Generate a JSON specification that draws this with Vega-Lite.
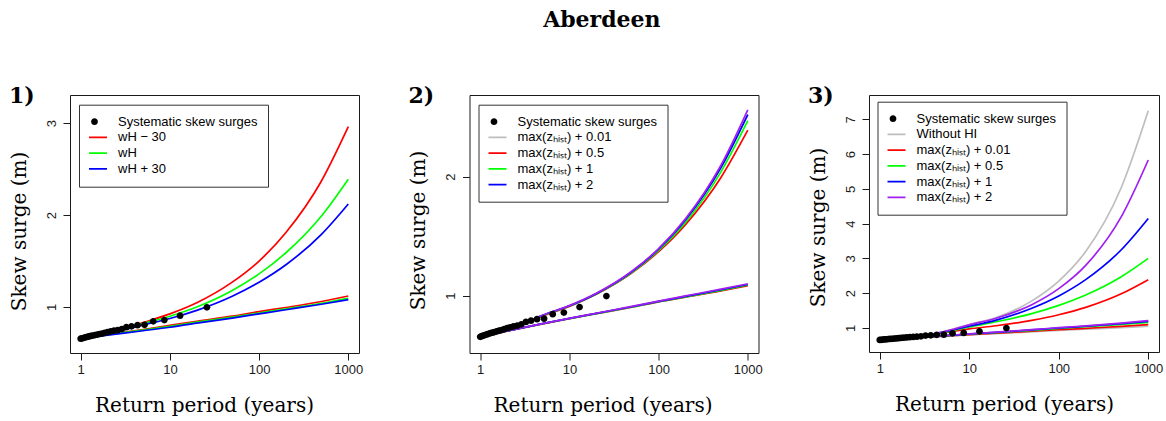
{
"$schema": "https://vega.github.io/schema/vega-lite/v6.json",
"title": {"text": "Aberdeen", "font": "DejaVu Serif", "fontSize": 22, "fontWeight": "bold", "color": "#000", "anchor": "middle", "offset": 53, "dx": 16},
"padding": {"left": 8, "top": 8, "right": 5, "bottom": 5},
"bounds": "flush",
"spacing": 110.5,
"datasets": {
"obs": [
{"series":"Systematic skew surges","T":26,"y":0.997},{"series":"Systematic skew surges","T":13,"y":0.905},{"series":"Systematic skew surges","T":8.667,"y":0.858},{"series":"Systematic skew surges","T":6.5,"y":0.845},{"series":"Systematic skew surges","T":5.2,"y":0.807},{"series":"Systematic skew surges","T":4.333,"y":0.803},{"series":"Systematic skew surges","T":3.714,"y":0.79},{"series":"Systematic skew surges","T":3.25,"y":0.78},{"series":"Systematic skew surges","T":2.889,"y":0.76},{"series":"Systematic skew surges","T":2.6,"y":0.748},{"series":"Systematic skew surges","T":2.364,"y":0.742},{"series":"Systematic skew surges","T":2.167,"y":0.735},{"series":"Systematic skew surges","T":2.0,"y":0.727},{"series":"Systematic skew surges","T":1.857,"y":0.72},{"series":"Systematic skew surges","T":1.733,"y":0.712},{"series":"Systematic skew surges","T":1.625,"y":0.706},{"series":"Systematic skew surges","T":1.529,"y":0.70},{"series":"Systematic skew surges","T":1.444,"y":0.695},{"series":"Systematic skew surges","T":1.368,"y":0.69},{"series":"Systematic skew surges","T":1.3,"y":0.685},{"series":"Systematic skew surges","T":1.238,"y":0.68},{"series":"Systematic skew surges","T":1.182,"y":0.675},{"series":"Systematic skew surges","T":1.13,"y":0.67},{"series":"Systematic skew surges","T":1.083,"y":0.665},{"series":"Systematic skew surges","T":1.04,"y":0.66},{"series":"Systematic skew surges","T":1.0,"y":0.655}
],
"p1": [
{"series":"wH − 30","curve":"upper","T":1,"y":0.655},{"series":"wH − 30","curve":"upper","T":2,"y":0.72},{"series":"wH − 30","curve":"upper","T":3,"y":0.763},{"series":"wH − 30","curve":"upper","T":5,"y":0.83},{"series":"wH − 30","curve":"upper","T":10,"y":0.925},{"series":"wH − 30","curve":"upper","T":20,"y":1.046},{"series":"wH − 30","curve":"upper","T":50,"y":1.27},{"series":"wH − 30","curve":"upper","T":100,"y":1.5},{"series":"wH − 30","curve":"upper","T":200,"y":1.81},{"series":"wH − 30","curve":"upper","T":500,"y":2.37},{"series":"wH − 30","curve":"upper","T":1000,"y":2.96},
{"series":"wH − 30","curve":"lower","T":1,"y":0.655},{"series":"wH − 30","curve":"lower","T":2,"y":0.70},{"series":"wH − 30","curve":"lower","T":5,"y":0.755},{"series":"wH − 30","curve":"lower","T":10,"y":0.80},{"series":"wH − 30","curve":"lower","T":20,"y":0.845},{"series":"wH − 30","curve":"lower","T":50,"y":0.90},{"series":"wH − 30","curve":"lower","T":100,"y":0.95},{"series":"wH − 30","curve":"lower","T":200,"y":0.995},{"series":"wH − 30","curve":"lower","T":500,"y":1.06},{"series":"wH − 30","curve":"lower","T":1000,"y":1.12},
{"series":"wH","curve":"upper","T":1,"y":0.655},{"series":"wH","curve":"upper","T":2,"y":0.716},{"series":"wH","curve":"upper","T":3,"y":0.758},{"series":"wH","curve":"upper","T":5,"y":0.82},{"series":"wH","curve":"upper","T":10,"y":0.90},{"series":"wH","curve":"upper","T":20,"y":1.0},{"series":"wH","curve":"upper","T":50,"y":1.18},{"series":"wH","curve":"upper","T":100,"y":1.36},{"series":"wH","curve":"upper","T":200,"y":1.59},{"series":"wH","curve":"upper","T":500,"y":1.99},{"series":"wH","curve":"upper","T":1000,"y":2.39},
{"series":"wH","curve":"lower","T":1,"y":0.655},{"series":"wH","curve":"lower","T":2,"y":0.697},{"series":"wH","curve":"lower","T":5,"y":0.75},{"series":"wH","curve":"lower","T":10,"y":0.79},{"series":"wH","curve":"lower","T":20,"y":0.835},{"series":"wH","curve":"lower","T":50,"y":0.89},{"series":"wH","curve":"lower","T":100,"y":0.935},{"series":"wH","curve":"lower","T":200,"y":0.98},{"series":"wH","curve":"lower","T":500,"y":1.04},{"series":"wH","curve":"lower","T":1000,"y":1.095},
{"series":"wH + 30","curve":"upper","T":1,"y":0.655},{"series":"wH + 30","curve":"upper","T":2,"y":0.712},{"series":"wH + 30","curve":"upper","T":3,"y":0.752},{"series":"wH + 30","curve":"upper","T":5,"y":0.805},{"series":"wH + 30","curve":"upper","T":10,"y":0.875},{"series":"wH + 30","curve":"upper","T":20,"y":0.964},{"series":"wH + 30","curve":"upper","T":50,"y":1.118},{"series":"wH + 30","curve":"upper","T":100,"y":1.27},{"series":"wH + 30","curve":"upper","T":200,"y":1.46},{"series":"wH + 30","curve":"upper","T":500,"y":1.79},{"series":"wH + 30","curve":"upper","T":1000,"y":2.12},
{"series":"wH + 30","curve":"lower","T":1,"y":0.655},{"series":"wH + 30","curve":"lower","T":2,"y":0.693},{"series":"wH + 30","curve":"lower","T":5,"y":0.742},{"series":"wH + 30","curve":"lower","T":10,"y":0.78},{"series":"wH + 30","curve":"lower","T":20,"y":0.825},{"series":"wH + 30","curve":"lower","T":50,"y":0.88},{"series":"wH + 30","curve":"lower","T":100,"y":0.925},{"series":"wH + 30","curve":"lower","T":200,"y":0.97},{"series":"wH + 30","curve":"lower","T":500,"y":1.03},{"series":"wH + 30","curve":"lower","T":1000,"y":1.08}
],
"p2": [
{"series":"max(zₕᵢₛₜ) + 0.01","curve":"upper","T":1,"y":0.655},{"series":"max(zₕᵢₛₜ) + 0.01","curve":"upper","T":2,"y":0.72},{"series":"max(zₕᵢₛₜ) + 0.01","curve":"upper","T":3,"y":0.765},{"series":"max(zₕᵢₛₜ) + 0.01","curve":"upper","T":5,"y":0.835},{"series":"max(zₕᵢₛₜ) + 0.01","curve":"upper","T":10,"y":0.915},{"series":"max(zₕᵢₛₜ) + 0.01","curve":"upper","T":20,"y":1.017},{"series":"max(zₕᵢₛₜ) + 0.01","curve":"upper","T":50,"y":1.2},{"series":"max(zₕᵢₛₜ) + 0.01","curve":"upper","T":100,"y":1.39},{"series":"max(zₕᵢₛₜ) + 0.01","curve":"upper","T":200,"y":1.635},{"series":"max(zₕᵢₛₜ) + 0.01","curve":"upper","T":500,"y":2.075},{"series":"max(zₕᵢₛₜ) + 0.01","curve":"upper","T":1000,"y":2.52},
{"series":"max(zₕᵢₛₜ) + 0.01","curve":"lower","T":1,"y":0.655},{"series":"max(zₕᵢₛₜ) + 0.01","curve":"lower","T":2,"y":0.703},{"series":"max(zₕᵢₛₜ) + 0.01","curve":"lower","T":5,"y":0.764},{"series":"max(zₕᵢₛₜ) + 0.01","curve":"lower","T":10,"y":0.808},{"series":"max(zₕᵢₛₜ) + 0.01","curve":"lower","T":20,"y":0.85},{"series":"max(zₕᵢₛₜ) + 0.01","curve":"lower","T":50,"y":0.905},{"series":"max(zₕᵢₛₜ) + 0.01","curve":"lower","T":100,"y":0.95},{"series":"max(zₕᵢₛₜ) + 0.01","curve":"lower","T":200,"y":0.99},{"series":"max(zₕᵢₛₜ) + 0.01","curve":"lower","T":500,"y":1.045},{"series":"max(zₕᵢₛₜ) + 0.01","curve":"lower","T":1000,"y":1.09},
{"series":"max(zₕᵢₛₜ) + 0.5","curve":"upper","T":1,"y":0.655},{"series":"max(zₕᵢₛₜ) + 0.5","curve":"upper","T":2,"y":0.72},{"series":"max(zₕᵢₛₜ) + 0.5","curve":"upper","T":3,"y":0.763},{"series":"max(zₕᵢₛₜ) + 0.5","curve":"upper","T":5,"y":0.83},{"series":"max(zₕᵢₛₜ) + 0.5","curve":"upper","T":10,"y":0.91},{"series":"max(zₕᵢₛₜ) + 0.5","curve":"upper","T":20,"y":1.012},{"series":"max(zₕᵢₛₜ) + 0.5","curve":"upper","T":50,"y":1.19},{"series":"max(zₕᵢₛₜ) + 0.5","curve":"upper","T":100,"y":1.37},{"series":"max(zₕᵢₛₜ) + 0.5","curve":"upper","T":200,"y":1.597},{"series":"max(zₕᵢₛₜ) + 0.5","curve":"upper","T":500,"y":1.993},{"series":"max(zₕᵢₛₜ) + 0.5","curve":"upper","T":1000,"y":2.39},
{"series":"max(zₕᵢₛₜ) + 0.5","curve":"lower","T":1,"y":0.655},{"series":"max(zₕᵢₛₜ) + 0.5","curve":"lower","T":2,"y":0.703},{"series":"max(zₕᵢₛₜ) + 0.5","curve":"lower","T":5,"y":0.764},{"series":"max(zₕᵢₛₜ) + 0.5","curve":"lower","T":10,"y":0.807},{"series":"max(zₕᵢₛₜ) + 0.5","curve":"lower","T":20,"y":0.849},{"series":"max(zₕᵢₛₜ) + 0.5","curve":"lower","T":50,"y":0.903},{"series":"max(zₕᵢₛₜ) + 0.5","curve":"lower","T":100,"y":0.948},{"series":"max(zₕᵢₛₜ) + 0.5","curve":"lower","T":200,"y":0.987},{"series":"max(zₕᵢₛₜ) + 0.5","curve":"lower","T":500,"y":1.04},{"series":"max(zₕᵢₛₜ) + 0.5","curve":"lower","T":1000,"y":1.085},
{"series":"max(zₕᵢₛₜ) + 1","curve":"upper","T":1,"y":0.655},{"series":"max(zₕᵢₛₜ) + 1","curve":"upper","T":2,"y":0.72},{"series":"max(zₕᵢₛₜ) + 1","curve":"upper","T":3,"y":0.765},{"series":"max(zₕᵢₛₜ) + 1","curve":"upper","T":5,"y":0.833},{"series":"max(zₕᵢₛₜ) + 1","curve":"upper","T":10,"y":0.913},{"series":"max(zₕᵢₛₜ) + 1","curve":"upper","T":20,"y":1.015},{"series":"max(zₕᵢₛₜ) + 1","curve":"upper","T":50,"y":1.195},{"series":"max(zₕᵢₛₜ) + 1","curve":"upper","T":100,"y":1.38},{"series":"max(zₕᵢₛₜ) + 1","curve":"upper","T":200,"y":1.615},{"series":"max(zₕᵢₛₜ) + 1","curve":"upper","T":500,"y":2.04},{"series":"max(zₕᵢₛₜ) + 1","curve":"upper","T":1000,"y":2.47},
{"series":"max(zₕᵢₛₜ) + 1","curve":"lower","T":1,"y":0.655},{"series":"max(zₕᵢₛₜ) + 1","curve":"lower","T":2,"y":0.704},{"series":"max(zₕᵢₛₜ) + 1","curve":"lower","T":5,"y":0.765},{"series":"max(zₕᵢₛₜ) + 1","curve":"lower","T":10,"y":0.808},{"series":"max(zₕᵢₛₜ) + 1","curve":"lower","T":20,"y":0.85},{"series":"max(zₕᵢₛₜ) + 1","curve":"lower","T":50,"y":0.905},{"series":"max(zₕᵢₛₜ) + 1","curve":"lower","T":100,"y":0.95},{"series":"max(zₕᵢₛₜ) + 1","curve":"lower","T":200,"y":0.99},{"series":"max(zₕᵢₛₜ) + 1","curve":"lower","T":500,"y":1.045},{"series":"max(zₕᵢₛₜ) + 1","curve":"lower","T":1000,"y":1.09},
{"series":"max(zₕᵢₛₜ) + 2","curve":"upper","T":1,"y":0.655},{"series":"max(zₕᵢₛₜ) + 2","curve":"upper","T":2,"y":0.72},{"series":"max(zₕᵢₛₜ) + 2","curve":"upper","T":3,"y":0.765},{"series":"max(zₕᵢₛₜ) + 2","curve":"upper","T":5,"y":0.835},{"series":"max(zₕᵢₛₜ) + 2","curve":"upper","T":10,"y":0.915},{"series":"max(zₕᵢₛₜ) + 2","curve":"upper","T":20,"y":1.017},{"series":"max(zₕᵢₛₜ) + 2","curve":"upper","T":50,"y":1.2},{"series":"max(zₕᵢₛₜ) + 2","curve":"upper","T":100,"y":1.39},{"series":"max(zₕᵢₛₜ) + 2","curve":"upper","T":200,"y":1.635},{"series":"max(zₕᵢₛₜ) + 2","curve":"upper","T":500,"y":2.075},{"series":"max(zₕᵢₛₜ) + 2","curve":"upper","T":1000,"y":2.52},
{"series":"max(zₕᵢₛₜ) + 2","curve":"lower","T":1,"y":0.655},{"series":"max(zₕᵢₛₜ) + 2","curve":"lower","T":2,"y":0.704},{"series":"max(zₕᵢₛₜ) + 2","curve":"lower","T":5,"y":0.765},{"series":"max(zₕᵢₛₜ) + 2","curve":"lower","T":10,"y":0.809},{"series":"max(zₕᵢₛₜ) + 2","curve":"lower","T":20,"y":0.852},{"series":"max(zₕᵢₛₜ) + 2","curve":"lower","T":50,"y":0.907},{"series":"max(zₕᵢₛₜ) + 2","curve":"lower","T":100,"y":0.952},{"series":"max(zₕᵢₛₜ) + 2","curve":"lower","T":200,"y":0.994},{"series":"max(zₕᵢₛₜ) + 2","curve":"lower","T":500,"y":1.05},{"series":"max(zₕᵢₛₜ) + 2","curve":"lower","T":1000,"y":1.095},
{"series":"unlabelled","curve":"upper","T":1,"y":0.655},{"series":"unlabelled","curve":"upper","T":2,"y":0.72},{"series":"unlabelled","curve":"upper","T":3,"y":0.766},{"series":"unlabelled","curve":"upper","T":5,"y":0.836},{"series":"unlabelled","curve":"upper","T":10,"y":0.917},{"series":"unlabelled","curve":"upper","T":20,"y":1.02},{"series":"unlabelled","curve":"upper","T":50,"y":1.205},{"series":"unlabelled","curve":"upper","T":100,"y":1.395},{"series":"unlabelled","curve":"upper","T":200,"y":1.645},{"series":"unlabelled","curve":"upper","T":500,"y":2.095},{"series":"unlabelled","curve":"upper","T":1000,"y":2.56},
{"series":"unlabelled","curve":"lower","T":1,"y":0.655},{"series":"unlabelled","curve":"lower","T":2,"y":0.705},{"series":"unlabelled","curve":"lower","T":5,"y":0.766},{"series":"unlabelled","curve":"lower","T":10,"y":0.81},{"series":"unlabelled","curve":"lower","T":20,"y":0.853},{"series":"unlabelled","curve":"lower","T":50,"y":0.91},{"series":"unlabelled","curve":"lower","T":100,"y":0.955},{"series":"unlabelled","curve":"lower","T":200,"y":0.998},{"series":"unlabelled","curve":"lower","T":500,"y":1.055},{"series":"unlabelled","curve":"lower","T":1000,"y":1.10}
],
"p3": [
{"series":"Without HI","curve":"upper","T":1,"y":0.655},{"series":"Without HI","curve":"upper","T":2,"y":0.72},{"series":"Without HI","curve":"upper","T":3,"y":0.775},{"series":"Without HI","curve":"upper","T":5,"y":0.89},{"series":"Without HI","curve":"upper","T":10,"y":1.10},{"series":"Without HI","curve":"upper","T":20,"y":1.30},{"series":"Without HI","curve":"upper","T":50,"y":1.78},{"series":"Without HI","curve":"upper","T":100,"y":2.35},{"series":"Without HI","curve":"upper","T":200,"y":3.2},{"series":"Without HI","curve":"upper","T":500,"y":5.04},{"series":"Without HI","curve":"upper","T":1000,"y":7.245},
{"series":"Without HI","curve":"lower","T":1,"y":0.655},{"series":"Without HI","curve":"lower","T":2,"y":0.70},{"series":"Without HI","curve":"lower","T":5,"y":0.76},{"series":"Without HI","curve":"lower","T":10,"y":0.80},{"series":"Without HI","curve":"lower","T":20,"y":0.84},{"series":"Without HI","curve":"lower","T":50,"y":0.89},{"series":"Without HI","curve":"lower","T":100,"y":0.93},{"series":"Without HI","curve":"lower","T":200,"y":0.965},{"series":"Without HI","curve":"lower","T":500,"y":1.01},{"series":"Without HI","curve":"lower","T":1000,"y":1.05},
{"series":"max(zₕᵢₛₜ) + 0.01","curve":"upper","T":1,"y":0.655},{"series":"max(zₕᵢₛₜ) + 0.01","curve":"upper","T":2,"y":0.72},{"series":"max(zₕᵢₛₜ) + 0.01","curve":"upper","T":3,"y":0.77},{"series":"max(zₕᵢₛₜ) + 0.01","curve":"upper","T":5,"y":0.855},{"series":"max(zₕᵢₛₜ) + 0.01","curve":"upper","T":10,"y":0.975},{"series":"max(zₕᵢₛₜ) + 0.01","curve":"upper","T":20,"y":1.063},{"series":"max(zₕᵢₛₜ) + 0.01","curve":"upper","T":50,"y":1.218},{"series":"max(zₕᵢₛₜ) + 0.01","curve":"upper","T":100,"y":1.38},{"series":"max(zₕᵢₛₜ) + 0.01","curve":"upper","T":200,"y":1.594},{"series":"max(zₕᵢₛₜ) + 0.01","curve":"upper","T":500,"y":1.985},{"series":"max(zₕᵢₛₜ) + 0.01","curve":"upper","T":1000,"y":2.39},
{"series":"max(zₕᵢₛₜ) + 0.01","curve":"lower","T":1,"y":0.655},{"series":"max(zₕᵢₛₜ) + 0.01","curve":"lower","T":2,"y":0.705},{"series":"max(zₕᵢₛₜ) + 0.01","curve":"lower","T":5,"y":0.765},{"series":"max(zₕᵢₛₜ) + 0.01","curve":"lower","T":10,"y":0.81},{"series":"max(zₕᵢₛₜ) + 0.01","curve":"lower","T":20,"y":0.853},{"series":"max(zₕᵢₛₜ) + 0.01","curve":"lower","T":50,"y":0.905},{"series":"max(zₕᵢₛₜ) + 0.01","curve":"lower","T":100,"y":0.95},{"series":"max(zₕᵢₛₜ) + 0.01","curve":"lower","T":200,"y":0.99},{"series":"max(zₕᵢₛₜ) + 0.01","curve":"lower","T":500,"y":1.045},{"series":"max(zₕᵢₛₜ) + 0.01","curve":"lower","T":1000,"y":1.095},
{"series":"max(zₕᵢₛₜ) + 0.5","curve":"upper","T":1,"y":0.655},{"series":"max(zₕᵢₛₜ) + 0.5","curve":"upper","T":2,"y":0.72},{"series":"max(zₕᵢₛₜ) + 0.5","curve":"upper","T":3,"y":0.772},{"series":"max(zₕᵢₛₜ) + 0.5","curve":"upper","T":5,"y":0.865},{"series":"max(zₕᵢₛₜ) + 0.5","curve":"upper","T":10,"y":1.03},{"series":"max(zₕᵢₛₜ) + 0.5","curve":"upper","T":20,"y":1.178},{"series":"max(zₕᵢₛₜ) + 0.5","curve":"upper","T":50,"y":1.414},{"series":"max(zₕᵢₛₜ) + 0.5","curve":"upper","T":100,"y":1.65},{"series":"max(zₕᵢₛₜ) + 0.5","curve":"upper","T":200,"y":1.949},{"series":"max(zₕᵢₛₜ) + 0.5","curve":"upper","T":500,"y":2.474},{"series":"max(zₕᵢₛₜ) + 0.5","curve":"upper","T":1000,"y":3.0},
{"series":"max(zₕᵢₛₜ) + 0.5","curve":"lower","T":1,"y":0.655},{"series":"max(zₕᵢₛₜ) + 0.5","curve":"lower","T":2,"y":0.708},{"series":"max(zₕᵢₛₜ) + 0.5","curve":"lower","T":5,"y":0.77},{"series":"max(zₕᵢₛₜ) + 0.5","curve":"lower","T":10,"y":0.82},{"series":"max(zₕᵢₛₜ) + 0.5","curve":"lower","T":20,"y":0.868},{"series":"max(zₕᵢₛₜ) + 0.5","curve":"lower","T":50,"y":0.932},{"series":"max(zₕᵢₛₜ) + 0.5","curve":"lower","T":100,"y":0.985},{"series":"max(zₕᵢₛₜ) + 0.5","curve":"lower","T":200,"y":1.035},{"series":"max(zₕᵢₛₜ) + 0.5","curve":"lower","T":500,"y":1.10},{"series":"max(zₕᵢₛₜ) + 0.5","curve":"lower","T":1000,"y":1.16},
{"series":"max(zₕᵢₛₜ) + 1","curve":"upper","T":1,"y":0.655},{"series":"max(zₕᵢₛₜ) + 1","curve":"upper","T":2,"y":0.72},{"series":"max(zₕᵢₛₜ) + 1","curve":"upper","T":3,"y":0.775},{"series":"max(zₕᵢₛₜ) + 1","curve":"upper","T":5,"y":0.875},{"series":"max(zₕᵢₛₜ) + 1","curve":"upper","T":10,"y":1.05},{"series":"max(zₕᵢₛₜ) + 1","curve":"upper","T":20,"y":1.226},{"series":"max(zₕᵢₛₜ) + 1","curve":"upper","T":50,"y":1.566},{"series":"max(zₕᵢₛₜ) + 1","curve":"upper","T":100,"y":1.92},{"series":"max(zₕᵢₛₜ) + 1","curve":"upper","T":200,"y":2.39},{"series":"max(zₕᵢₛₜ) + 1","curve":"upper","T":500,"y":3.25},{"series":"max(zₕᵢₛₜ) + 1","curve":"upper","T":1000,"y":4.15},
{"series":"max(zₕᵢₛₜ) + 1","curve":"lower","T":1,"y":0.655},{"series":"max(zₕᵢₛₜ) + 1","curve":"lower","T":2,"y":0.71},{"series":"max(zₕᵢₛₜ) + 1","curve":"lower","T":5,"y":0.773},{"series":"max(zₕᵢₛₜ) + 1","curve":"lower","T":10,"y":0.826},{"series":"max(zₕᵢₛₜ) + 1","curve":"lower","T":20,"y":0.875},{"series":"max(zₕᵢₛₜ) + 1","curve":"lower","T":50,"y":0.943},{"series":"max(zₕᵢₛₜ) + 1","curve":"lower","T":100,"y":1.0},{"series":"max(zₕᵢₛₜ) + 1","curve":"lower","T":200,"y":1.05},{"series":"max(zₕᵢₛₜ) + 1","curve":"lower","T":500,"y":1.125},{"series":"max(zₕᵢₛₜ) + 1","curve":"lower","T":1000,"y":1.19},
{"series":"max(zₕᵢₛₜ) + 2","curve":"upper","T":1,"y":0.655},{"series":"max(zₕᵢₛₜ) + 2","curve":"upper","T":2,"y":0.72},{"series":"max(zₕᵢₛₜ) + 2","curve":"upper","T":3,"y":0.775},{"series":"max(zₕᵢₛₜ) + 2","curve":"upper","T":5,"y":0.885},{"series":"max(zₕᵢₛₜ) + 2","curve":"upper","T":10,"y":1.09},{"series":"max(zₕᵢₛₜ) + 2","curve":"upper","T":20,"y":1.28},{"series":"max(zₕᵢₛₜ) + 2","curve":"upper","T":50,"y":1.67},{"series":"max(zₕᵢₛₜ) + 2","curve":"upper","T":100,"y":2.13},{"series":"max(zₕᵢₛₜ) + 2","curve":"upper","T":200,"y":2.8},{"series":"max(zₕᵢₛₜ) + 2","curve":"upper","T":500,"y":4.2},{"series":"max(zₕᵢₛₜ) + 2","curve":"upper","T":1000,"y":5.83},
{"series":"max(zₕᵢₛₜ) + 2","curve":"lower","T":1,"y":0.655},{"series":"max(zₕᵢₛₜ) + 2","curve":"lower","T":2,"y":0.71},{"series":"max(zₕᵢₛₜ) + 2","curve":"lower","T":5,"y":0.775},{"series":"max(zₕᵢₛₜ) + 2","curve":"lower","T":10,"y":0.83},{"series":"max(zₕᵢₛₜ) + 2","curve":"lower","T":20,"y":0.88},{"series":"max(zₕᵢₛₜ) + 2","curve":"lower","T":50,"y":0.95},{"series":"max(zₕᵢₛₜ) + 2","curve":"lower","T":100,"y":1.01},{"series":"max(zₕᵢₛₜ) + 2","curve":"lower","T":200,"y":1.06},{"series":"max(zₕᵢₛₜ) + 2","curve":"lower","T":500,"y":1.14},{"series":"max(zₕᵢₛₜ) + 2","curve":"lower","T":1000,"y":1.21}
]
},
"hconcat": [
{
"title": {"text": "1)"},
"width": 289, "height": 258,
"layer": [
{"data": {"name": "p1"},
 "mark": {"type": "line", "strokeWidth": 1.7, "interpolate": "monotone"},
 "encoding": {
  "x": {"field": "T", "type": "quantitative", "scale": {"type": "log", "domain": [0.7586, 1318.3], "nice": false}, "axis": {"values": [1, 10, 100, 1000], "format": "d", "title": "Return period (years)", "titleX": 134}},
  "y": {"field": "y", "type": "quantitative", "scale": {"domain": [0.5, 3.305], "nice": false, "zero": false}, "axis": {"values": [1, 2, 3], "format": "d", "title": "Skew surge (m)", "titleY": 136}},
  "stroke": {"field": "series", "type": "nominal", "scale": {"domain": ["wH − 30", "wH", "wH + 30"], "range": ["#FF0000", "#00FF00", "#0000FF"]}, "legend": null},
  "detail": {"field": "curve", "type": "nominal"}
 }},
{"data": {"name": "obs"},
 "mark": {"type": "point", "filled": true, "opacity": 1, "size": 625},
 "encoding": {
  "x": {"field": "T", "type": "quantitative"},
  "y": {"field": "y", "type": "quantitative"},
  "color": {"field": "series", "type": "nominal", "scale": {"domain": ["Systematic skew surges", "wH − 30", "wH", "wH + 30"], "range": ["#000000", "#FF0000", "#00FF00", "#0000FF"]},
    "legend": {"title": null, "orient": "none", "legendX": 9, "legendY": 9.7}},
  "shape": {"field": "series", "type": "nominal", "scale": {"domain": ["Systematic skew surges", "wH − 30", "wH", "wH + 30"], "range": ["M-0.27,0A0.27,0.27 0 1,0 0.27,0A0.27,0.27 0 1,0 -0.27,0Z", "M-1,-0.07L1,-0.07L1,0.07L-1,0.07Z", "M-1,-0.07L1,-0.07L1,0.07L-1,0.07Z", "M-1,-0.07L1,-0.07L1,0.07L-1,0.07Z"]},
    "legend": {"title": null, "orient": "none", "legendX": 9, "legendY": 9.7}}
 }}
]
},
{
"title": {"text": "2)"},
"width": 289, "height": 258,
"layer": [
{"data": {"name": "p2"},
 "mark": {"type": "line", "strokeWidth": 1.7, "interpolate": "monotone"},
 "encoding": {
  "x": {"field": "T", "type": "quantitative", "scale": {"type": "log", "domain": [0.7586, 1318.3], "nice": false}, "axis": {"values": [1, 10, 100, 1000], "format": "d", "title": "Return period (years)", "titleX": 133}},
  "y": {"field": "y", "type": "quantitative", "scale": {"domain": [0.519, 2.685], "nice": false, "zero": false}, "axis": {"values": [1, 2], "format": "d", "title": "Skew surge (m)", "titleY": 135}},
  "stroke": {"field": "series", "type": "nominal", "scale": {"domain": ["max(zₕᵢₛₜ) + 0.01", "max(zₕᵢₛₜ) + 0.5", "max(zₕᵢₛₜ) + 1", "max(zₕᵢₛₜ) + 2", "unlabelled"], "range": ["#BEBEBE", "#FF0000", "#00FF00", "#0000FF", "#A020F0"]}, "legend": null},
  "detail": {"field": "curve", "type": "nominal"}
 }},
{"data": {"name": "obs"},
 "mark": {"type": "point", "filled": true, "opacity": 1, "size": 625},
 "encoding": {
  "x": {"field": "T", "type": "quantitative"},
  "y": {"field": "y", "type": "quantitative"},
  "color": {"field": "series", "type": "nominal", "scale": {"domain": ["Systematic skew surges", "max(zₕᵢₛₜ) + 0.01", "max(zₕᵢₛₜ) + 0.5", "max(zₕᵢₛₜ) + 1", "max(zₕᵢₛₜ) + 2"], "range": ["#000000", "#BEBEBE", "#FF0000", "#00FF00", "#0000FF"]},
    "legend": {"title": null, "orient": "none", "legendX": 9, "legendY": 9.7}},
  "shape": {"field": "series", "type": "nominal", "scale": {"domain": ["Systematic skew surges", "max(zₕᵢₛₜ) + 0.01", "max(zₕᵢₛₜ) + 0.5", "max(zₕᵢₛₜ) + 1", "max(zₕᵢₛₜ) + 2"], "range": ["M-0.27,0A0.27,0.27 0 1,0 0.27,0A0.27,0.27 0 1,0 -0.27,0Z", "M-1,-0.07L1,-0.07L1,0.07L-1,0.07Z", "M-1,-0.07L1,-0.07L1,0.07L-1,0.07Z", "M-1,-0.07L1,-0.07L1,0.07L-1,0.07Z", "M-1,-0.07L1,-0.07L1,0.07L-1,0.07Z"]},
    "legend": {"title": null, "orient": "none", "legendX": 9, "legendY": 9.7}}
 }}
]
},
{
"title": {"text": "3)"},
"width": 290, "height": 257,
"layer": [
{"data": {"name": "p3"},
 "mark": {"type": "line", "strokeWidth": 1.7, "interpolate": "monotone"},
 "encoding": {
  "x": {"field": "T", "type": "quantitative", "scale": {"type": "log", "domain": [0.7586, 1318.3], "nice": false}, "axis": {"values": [1, 10, 100, 1000], "format": "d", "title": "Return period (years)", "titleX": 135}},
  "y": {"field": "y", "type": "quantitative", "scale": {"domain": [0.309, 7.70], "nice": false, "zero": false}, "axis": {"values": [1, 2, 3, 4, 5, 6, 7], "format": "d", "title": "Skew surge (m)", "titleY": 132}},
  "stroke": {"field": "series", "type": "nominal", "scale": {"domain": ["Without HI", "max(zₕᵢₛₜ) + 0.01", "max(zₕᵢₛₜ) + 0.5", "max(zₕᵢₛₜ) + 1", "max(zₕᵢₛₜ) + 2"], "range": ["#BEBEBE", "#FF0000", "#00FF00", "#0000FF", "#A020F0"]}, "legend": null},
  "detail": {"field": "curve", "type": "nominal"}
 }},
{"data": {"name": "obs"},
 "mark": {"type": "point", "filled": true, "opacity": 1, "size": 625},
 "encoding": {
  "x": {"field": "T", "type": "quantitative"},
  "y": {"field": "y", "type": "quantitative"},
  "color": {"field": "series", "type": "nominal", "scale": {"domain": ["Systematic skew surges", "Without HI", "max(zₕᵢₛₜ) + 0.01", "max(zₕᵢₛₜ) + 0.5", "max(zₕᵢₛₜ) + 1", "max(zₕᵢₛₜ) + 2"], "range": ["#000000", "#BEBEBE", "#FF0000", "#00FF00", "#0000FF", "#A020F0"]},
    "legend": {"title": null, "orient": "none", "legendX": 8.5, "legendY": 6.7}},
  "shape": {"field": "series", "type": "nominal", "scale": {"domain": ["Systematic skew surges", "Without HI", "max(zₕᵢₛₜ) + 0.01", "max(zₕᵢₛₜ) + 0.5", "max(zₕᵢₛₜ) + 1", "max(zₕᵢₛₜ) + 2"], "range": ["M-0.27,0A0.27,0.27 0 1,0 0.27,0A0.27,0.27 0 1,0 -0.27,0Z", "M-1,-0.07L1,-0.07L1,0.07L-1,0.07Z", "M-1,-0.07L1,-0.07L1,0.07L-1,0.07Z", "M-1,-0.07L1,-0.07L1,0.07L-1,0.07Z", "M-1,-0.07L1,-0.07L1,0.07L-1,0.07Z", "M-1,-0.07L1,-0.07L1,0.07L-1,0.07Z"]},
    "legend": {"title": null, "orient": "none", "legendX": 8.5, "legendY": 6.7}}
 }}
]
}
],
"resolve": {
 "scale": {"x": "independent", "y": "independent", "color": "independent", "shape": "independent", "stroke": "independent"},
 "legend": {"color": "independent", "shape": "independent", "stroke": "independent"}
},
"config": {
 "background": "#ffffff",
 "view": {"stroke": "#1a1a1a", "strokeWidth": 1},
 "title": {"font": "DejaVu Serif", "fontSize": 22, "fontWeight": "bold", "color": "#000", "anchor": "start", "frame": "bounds", "baseline": "alphabetic", "offset": -13},
 "axis": {"domain": false, "grid": false, "ticks": true, "tickColor": "#1a1a1a", "tickSize": 7, "tickWidth": 1, "labelFont": "Liberation Sans", "labelFontSize": 13, "labelColor": "#1a1a1a", "labelPadding": 3, "titleFont": "DejaVu Serif", "titleFontSize": 20, "titleFontWeight": "normal", "titleColor": "#000"},
 "axisX": {"titlePadding": 19, "labelFlush": false},
 "axisY": {"labelAngle": -90, "labelPadding": 5, "titlePadding": 16, "labelFlush": false},
 "legend": {"strokeColor": "#333333", "fillColor": "#ffffff", "padding": 10, "symbolSize": 625, "symbolOffset": -7, "labelOffset": 11, "clipHeight": 14, "rowPadding": 1.75, "labelFont": "Liberation Sans", "labelFontSize": 13, "labelColor": "#000", "symbolStrokeWidth": 0, "labelLimit": 400}
}
}
